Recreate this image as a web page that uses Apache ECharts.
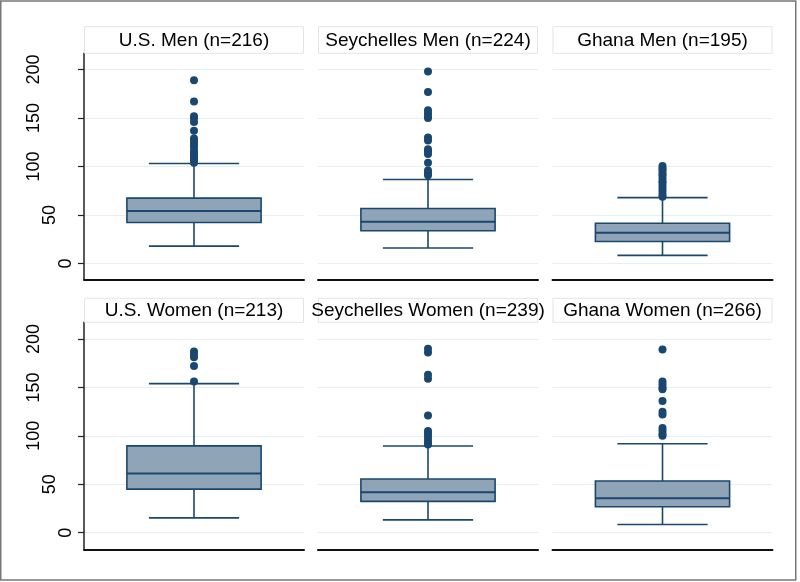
<!DOCTYPE html>
<html>
<head>
<meta charset="utf-8">
<script src="https://cdn.jsdelivr.net/npm/echarts@6/dist/echarts.min.js"></script>
<style>html,body{margin:0;padding:0;background:#fff;}#c{width:800px;height:582px;}</style>
</head>
<body>
<div id="c"></div>
<script>
// ---- data ----
const panelTitles = ['U.S. Men (n=216)', 'Seychelles Men (n=224)', 'Ghana Men (n=195)',
                     'U.S. Women (n=213)', 'Seychelles Women (n=239)', 'Ghana Women (n=266)'];
const yTicks = [0, 50, 100, 150, 200];
// [lower whisker, Q1, median, Q3, upper whisker]
const usMenBox       = [18, 42.4, 54.3, 67.5, 103.2];
const seyMenBox      = [16.1, 33.8, 43.2, 56.8, 86.7];
const ghanaMenBox    = [8.5, 22.8, 31.7, 41.6, 68.0];
const usWomenBox     = [15.3, 45.0, 61.1, 89.7, 153.9];
const seyWomenBox    = [13.3, 32.4, 41.8, 55.4, 89.5];
const ghanaWomenBox  = [8.5, 26.8, 35.5, 53.4, 91.9];
// outliers
const usMenOut      = [189, 167, 152, 150, 146, 137, 129, 126, 123, 120, 116, 113, 111, 108, 106, 104];
const seyMenOut     = [198, 177, 158, 155, 152, 150, 130, 127, 118, 116, 113, 104, 96, 93, 91];
const ghanaMenOut   = [100.5, 98, 96, 93, 91, 88, 85, 83, 80, 77, 74, 71, 69];
const usWomenOut    = [187, 184, 181, 172, 156];
const seyWomenOut   = [190, 186, 163, 159, 121, 105, 102, 99, 96, 93, 91];
const ghanaWomenOut = [189, 156, 153, 150, 148, 136, 125, 122, 108, 105, 102, 100];

const boxes = [usMenBox, seyMenBox, ghanaMenBox, usWomenBox, seyWomenBox, ghanaWomenBox];
const outs  = [usMenOut, seyMenOut, ghanaMenOut, usWomenOut, seyWomenOut, ghanaWomenOut];

// ---- layout ----
const FONT = '"Liberation Sans", Arial, Helvetica, sans-serif';
const NAVY = '#1a476f';
const FILL = '#90a4b8';
const GRID_COLOR = '#e6eef0';
const colLeft = [84, 318, 552.5];
const colWidth = 220;
const rows = [
  {top: 53.3, height: 226, headTop: 26.7, headH: 26.6, min: -16.2, max: 216.8},
  {top: 322.3, height: 227, headTop: 298.3, headH: 24, min: -17.1, max: 217.2}
];

const grids = [], xAxes = [], yAxes = [], series = [], graphics = [];
for (let i = 0; i < 6; i++) {
  const r = rows[Math.floor(i / 3)];
  const col = i % 3;
  grids.push({left: colLeft[col], top: r.top, width: colWidth, height: r.height, containLabel: false});
  xAxes.push({
    type: 'category', gridIndex: i, data: [''], z: 5,
    axisLine: {show: true, onZero: false, lineStyle: {color: '#111', width: 2}},
    axisTick: {show: false}, axisLabel: {show: false}, splitLine: {show: false}
  });
  const richBase = {fontSize: 18, fontFamily: FONT, color: '#000'};
  yAxes.push({
    type: 'value', gridIndex: i, min: r.min, max: r.max,
    axisLine: {show: col === 0, lineStyle: {color: '#222', width: 1.5}},
    axisTick: {show: col === 0, length: 6, customValues: yTicks, lineStyle: {color: '#222', width: 1.2}},
    axisLabel: {
      show: col === 0, rotate: 90, margin: 9, customValues: yTicks,
      fontSize: 18, fontFamily: FONT, color: '#000',
      formatter: v => '{p' + String(v).length + '|' + v + '}',
      rich: {
        p1: Object.assign({padding: [0, 0, 0, 0]}, richBase),
        p2: Object.assign({padding: [0, 0, 16, 0]}, richBase),
        p3: Object.assign({padding: [0, 0, 32, 0]}, richBase)
      }
    },
    splitLine: {show: true, lineStyle: {color: GRID_COLOR, width: 1}}
  });
  series.push({
    type: 'custom', xAxisIndex: i, yAxisIndex: i,
    encode: {x: 0, y: [1, 2, 3, 4, 5]},
    data: [[0].concat(boxes[i])],
    renderItem: function (params, api) {
      const x = api.value(0);
      const lo = api.coord([x, api.value(1)]);
      const q1 = api.coord([x, api.value(2)]);
      const md = api.coord([x, api.value(3)]);
      const q3 = api.coord([x, api.value(4)]);
      const hi = api.coord([x, api.value(5)]);
      const band = api.size([1, 0])[0];
      const bw = band * 0.61, cw = band * 0.41;
      const cx = md[0];
      const ls = {stroke: NAVY, lineWidth: 1.6};
      return {type: 'group', children: [
        {type: 'line', shape: {x1: cx, y1: lo[1], x2: cx, y2: q1[1]}, style: ls},
        {type: 'line', shape: {x1: cx, y1: q3[1], x2: cx, y2: hi[1]}, style: ls},
        {type: 'line', shape: {x1: cx - cw / 2, y1: lo[1], x2: cx + cw / 2, y2: lo[1]}, style: ls},
        {type: 'line', shape: {x1: cx - cw / 2, y1: hi[1], x2: cx + cw / 2, y2: hi[1]}, style: ls},
        {type: 'rect', shape: {x: cx - bw / 2, y: q3[1], width: bw, height: q1[1] - q3[1]},
         style: {fill: FILL, stroke: NAVY, lineWidth: 1.6}},
        {type: 'line', shape: {x1: cx - bw / 2, y1: md[1], x2: cx + bw / 2, y2: md[1]},
         style: {stroke: NAVY, lineWidth: 2}}
      ]};
    }
  });
  series.push({
    type: 'scatter', xAxisIndex: i, yAxisIndex: i, symbol: 'circle', symbolSize: 8,
    itemStyle: {color: NAVY, opacity: 1}, z: 3,
    data: outs[i].map(v => [0, v])
  });
  // strip header
  graphics.push({
    type: 'rect', shape: {x: colLeft[col] + 0.5, y: r.headTop, width: colWidth - 1, height: r.headH},
    style: {fill: '#fff', stroke: '#dde6ea', lineWidth: 1}, z: 1
  });
  graphics.push({
    type: 'text', z: 2,
    style: {text: panelTitles[i], x: colLeft[col] + colWidth / 2, y: r.headTop + r.headH / 2 + 0.5,
            align: 'center', verticalAlign: 'middle', fontSize: 19, fontFamily: FONT, fill: '#000'}
  });
}
graphics.push({type: 'rect', shape: {x: 0.75, y: 1, width: 795, height: 579},
  style: {fill: null, stroke: '#777', lineWidth: 1.5}, z: 0, silent: true});

const chart = echarts.init(document.getElementById('c'), null, {renderer: 'canvas'});
chart.setOption({
  animation: false,
  backgroundColor: '#fff',
  grid: grids, xAxis: xAxes, yAxis: yAxes, series: series, graphic: graphics
});
</script>
</body>
</html>
